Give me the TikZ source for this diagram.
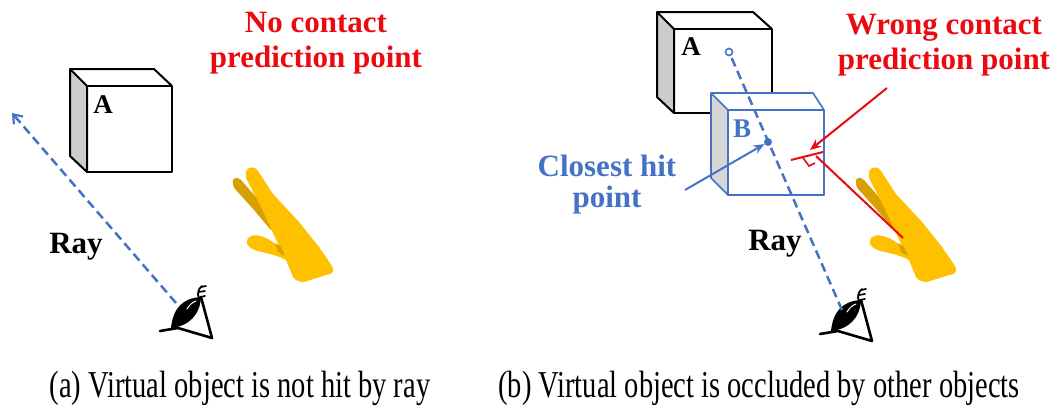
\documentclass[tikz,border=0pt]{standalone}
\usepackage{fontspec}
\setmainfont{Liberation Serif}
\newfontfamily\capfont[FakeStretch=0.75]{Liberation Serif}
\usetikzlibrary{arrows.meta}
\definecolor{rayblue}{RGB}{68,114,196}
\definecolor{warnred}{RGB}{235,10,15}
\definecolor{handyellow}{RGB}{255,192,0}
\definecolor{handdark}{RGB}{214,160,0}
\definecolor{sidegray}{RGB}{204,204,204}

\begin{document}
\begin{tikzpicture}[x=1pt,y=-1pt,
  title/.style={font=\bfseries\fontsize{31}{35}\selectfont, text=warnred, align=center, inner sep=0pt, anchor=north},
  bluetext/.style={font=\bfseries\fontsize{31}{31}\selectfont, text=rayblue, align=center, inner sep=0pt, anchor=north},
  raylabel/.style={font=\bfseries\fontsize{31}{35}\selectfont, inner sep=0pt, anchor=base},
  cubelabel/.style={font=\bfseries\fontsize{27}{30}\selectfont, inner sep=0pt, anchor=base},
  caption/.style={font=\capfont\fontsize{38}{40}\selectfont, inner sep=0pt, anchor=base},
  rayline/.style={rayblue, line width=2.5pt, dash pattern=on 9pt off 5pt},
  cubeedge/.style={line width=2pt, line join=round},
  blueedge/.style={rayblue, line width=1.6pt, line join=round},
  pointer/.style={line width=2pt, -{Stealth[length=11pt,width=9pt]}},
  eye/.pic={
    % base stroke and cone of the viewer
    \draw[line width=2.6pt, line cap=round, line join=round]
      (-12,4) -- (6,1) -- (40,11) -- (29,-30);
    % lens
    \fill (-1,1) .. controls (1,-19) and (11,-29) .. (29,-30)
                .. controls (28,-12) and (17,-1) .. cycle;
    \draw[white, line width=1pt, line cap=round] (15,-18) .. controls (18,-23) and (21,-25) .. (24,-26);
    % lashes
    \draw[line width=1.8pt, line cap=round] (27,-29) .. controls (25,-33) and (26,-38) .. (30,-41);
    \draw[line width=1.7pt, line cap=round] (29,-40) -- (34,-41) (27,-35) -- (33,-36) (28,-30) -- (33,-31);
  },
  hand/.pic={
    % finger behind
    \fill[handdark] (233,184) .. controls (231,178) and (237,176) .. (241,180)
      -- (263,205) -- (277,233) -- (270,229) -- (254,210) -- (236,190) .. controls (234,188) .. cycle;
    % main hand
    \fill[handyellow] (246,172) .. controls (247,166) and (256,166) .. (258,171)
      -- (273,194) -- (299,222) -- (319,247) -- (332,266)
      .. controls (335,271) and (332,275) .. (326,275)
      -- (304,282) .. controls (299,282) and (295,280) .. (293,277)
      -- (286,260) .. controls (279,256) and (270,254) .. (262,252)
      .. controls (249,250) and (244,243) .. (248,238)
      .. controls (252,233) and (262,236) .. (268,239)
      -- (279,246) -- (262,209) -- (246,178) -- cycle;
    \fill[handdark] (275,243) -- (281,247) -- (285,256) -- (278,252) -- cycle;
  }
]
\useasboundingbox (0,0) rectangle (1060,405);
\fill[white] (0,0) rectangle (1060,405);

% ---------------- (a) ----------------
\node[title] (titleA) at (316,12) {No contact\\prediction point};

% cube A
\fill[sidegray] (70,69) -- (87,86) -- (87,172) -- (70,156) -- cycle;
\draw[cubeedge] (70,69) -- (87,86) -- (87,172) -- (70,156) -- cycle;
\draw[cubeedge] (87,86) rectangle (172,172);
\draw[cubeedge] (70,69) -- (154,69) -- (172,86);
\node[cubelabel] (labelA) at (103,113) {A};

% viewer and hand
\pic at (172,327) {eye};
\pic at (0,0) {hand};

% ray
\coordinate (eyeA) at (176,303);
\coordinate (rayEndA) at (12,113);
\draw[rayline, -{Straight Barb[length=8pt,width=12pt,line width=2.2pt]}] (eyeA) -- (rayEndA);
\node[raylabel] (rayA) at (76,253) {Ray};

\node[caption] (capA) at (240,397) {(a) Virtual object is not hit by ray};

% ---------------- (b) ----------------
\node[title] (titleB) at (944,14) {Wrong contact\\prediction point};

% cube A (behind)
\fill[sidegray] (657,12) -- (674,29) -- (674,113) -- (657,97) -- cycle;
\draw[cubeedge] (657,12) -- (674,29) -- (674,113) -- (657,97) -- cycle;
\draw[cubeedge] (674,29) rectangle (772,113);
\draw[cubeedge] (657,12) -- (753,12) -- (772,29);
\node[cubelabel] (labelA2) at (691,55) {A};

% cube B (in front)
\fill[white] (711,93) -- (813,93) -- (824,110) -- (824,195) -- (728,195) -- (711,178) -- cycle;
\fill[sidegray!80] (711,93) -- (728,110) -- (728,195) -- (711,178) -- cycle;
\draw[blueedge] (711,93) -- (728,110) -- (728,195) -- (711,178) -- cycle;
\draw[blueedge] (728,110) rectangle (824,195);
\draw[blueedge] (711,93) -- (813,93) -- (824,110);
\node[cubelabel, text=rayblue] (labelB) at (742,137) {B};

% viewer and hand
\pic at (832,330) {eye};
\pic at (623,0) {hand};

% ray through both cubes
\coordinate (eyeB) at (842,310);
\node[circle, draw=rayblue, line width=1.6pt, fill=white, inner sep=0pt, minimum size=7pt] (probe) at (729,52) {};
\draw[rayline] (eyeB) -- (probe);
\node[circle, fill=rayblue, inner sep=0pt, minimum size=8pt] (hit) at (768,142) {};
\node[raylabel] (rayB) at (775,250) {Ray};

% closest hit point
\node[bluetext] (closest) at (607,155) {Closest hit\\point};
\coordinate (closestTail) at (685,190);
\draw[pointer, rayblue] (closestTail) -- (hit);

% wrong contact point
\coordinate (contact) at (816,156);
\coordinate (surfL) at (791,160);
\coordinate (surfR) at (823,152);
\coordinate (finger) at (903,238);
\coordinate (wrongTail) at (887,88);
\begin{scope}[warnred, line width=2pt]
  \draw (surfL) -- (surfR);
  \draw (contact) -- (finger);
  \draw[line width=1.6pt] (803,158) -- (809,166) -- (815,163);
  \draw[pointer] (wrongTail) -- (810,150);
\end{scope}

\node[caption] (capB) at (759,397) {(b) Virtual object is occluded by other objects};
\end{tikzpicture}
\end{document}
